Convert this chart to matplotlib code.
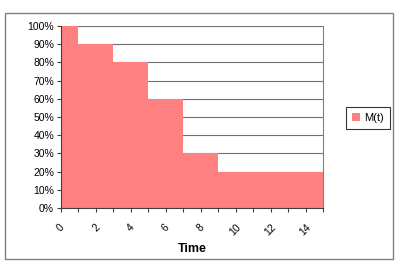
import matplotlib
matplotlib.use('Agg')
import matplotlib.pyplot as plt
from matplotlib.patches import Rectangle

# step survival curve M(t), values in percent
times = [0, 1, 3, 5, 7, 9, 15]
m_values = [100, 90, 80, 60, 30, 20, 20]
x_ticks = list(range(0, 16))
x_labels = [str(t) if t % 2 == 0 else '' for t in x_ticks]
y_ticks = list(range(0, 101, 10))
y_labels = [f'{v}%' for v in y_ticks]

plt.rcParams['font.family'] = ['Liberation Sans', 'DejaVu Sans']

fig = plt.figure(figsize=(4.0, 2.74), dpi=100)
fig.patch.set_facecolor('white')

# outer chart frame
fig.patches.append(Rectangle((5 / 400, 1 - 259 / 274), 388 / 400, 246 / 274,
                             transform=fig.transFigure, fill=False,
                             edgecolor='#808080', linewidth=1.0))

ax = fig.add_axes([61 / 400, 1 - 208 / 274, 262 / 400, 182 / 274])
ax.fill_between(times, m_values, step='post', facecolor='#FF8080',
                edgecolor='none', linewidth=0, label='M(t)', zorder=2)

ax.set_xlim(0, 15)
ax.set_ylim(0, 100)
ax.set_xticks(x_ticks)
ax.set_xticklabels(x_labels, rotation=45, fontsize=7.5, ha='center')
ax.set_yticks(y_ticks)
ax.set_yticklabels(y_labels, fontsize=7.5)
ax.tick_params(axis='both', direction='out', length=3, width=0.8, color='#404040', pad=2)
ax.tick_params(axis='x', pad=7)
ax.yaxis.grid(True, color='#707070', linewidth=0.8, zorder=1)
ax.set_axisbelow(True)

ax.spines['top'].set_visible(False)
ax.spines['right'].set_color('#808080')
ax.spines['left'].set_color('#404040')
ax.spines['bottom'].set_color('#404040')

ax.set_xlabel('Time', fontsize=9, fontweight='bold', labelpad=4)

leg = fig.legend(loc='center', bbox_to_anchor=(368 / 400, 1 - 118 / 274),
                 fontsize=8, frameon=True, fancybox=False, edgecolor='black',
                 handlelength=0.7, handleheight=0.7, handletextpad=0.4,
                 borderpad=0.5)
leg.get_frame().set_linewidth(0.8)

plt.savefig('out.png', dpi=100)
plt.close()
